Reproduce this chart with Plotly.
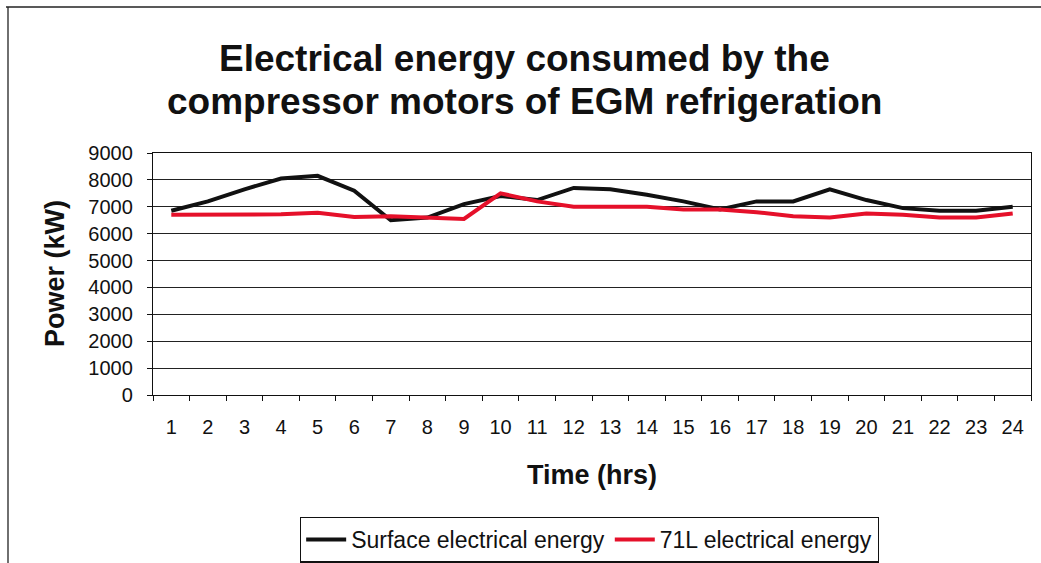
import plotly.graph_objects as go

hours = [str(h) for h in range(1, 25)]
surface_kw = [6850, 7200, 7650, 8050, 8150, 7600, 6500, 6600, 7100, 7400, 7250, 7700,
              7650, 7450, 7200, 6900, 7200, 7200, 7650, 7250, 6950, 6850, 6850, 7000]
level71_kw = [6700, 6700, 6700, 6720, 6780, 6620, 6650, 6600, 6550, 7500, 7200, 7000,
              7000, 7000, 6900, 6900, 6800, 6650, 6600, 6750, 6700, 6600, 6600, 6750]
y_ticks = list(range(0, 9001, 1000))

FONT = "Liberation Sans, Arial, sans-serif"
INK = "#111111"

fig = go.Figure()
fig.add_trace(go.Scatter(x=hours, y=surface_kw, mode="lines",
                         name="Surface electrical energy",
                         line=dict(color=INK, width=4)))
fig.add_trace(go.Scatter(x=hours, y=level71_kw, mode="lines",
                         name="71L electrical energy",
                         line=dict(color="#e5102a", width=4)))

fig.update_layout(
    width=1041, height=563,
    margin=dict(l=153, r=10, t=153, b=168, autoexpand=False),
    paper_bgcolor="white", plot_bgcolor="white",
    font=dict(family=FONT, color=INK),
    showlegend=True,
    legend=dict(orientation="h", x=0.497, xanchor="center", y=-0.598, yanchor="middle",
                bordercolor=INK, borderwidth=1.3, bgcolor="white",
                font=dict(size=23, family=FONT, color=INK), itemwidth=40,
                tracegroupgap=0),
    xaxis=dict(type="category", tickson="boundaries", ticks="outside", ticklen=5,
               tickcolor=INK, showline=True, linecolor=INK, linewidth=1.3,
               mirror=True, showgrid=False, tickfont=dict(size=20, family=FONT),
               ticklabelstandoff=14, range=[-0.5, 23.5], automargin=False),
    yaxis=dict(range=[0, 9000], tickvals=y_ticks, ticks="outside", ticklen=5,
               tickcolor=INK, showline=True, linecolor=INK, linewidth=1.3,
               mirror=True, showgrid=True, gridcolor="#222222", gridwidth=1,
               zeroline=False, tickfont=dict(size=20, family=FONT),
               ticklabelstandoff=10, automargin=False),
    annotations=[
        dict(text="<b>Electrical energy consumed by the</b>",
             xref="paper", yref="paper", x=0.423, y=1 + (153 - 59) / 242,
             xanchor="center", yanchor="middle", showarrow=False,
             font=dict(size=37, family=FONT, color=INK)),
        dict(text="<b>compressor motors of EGM refrigeration</b>",
             xref="paper", yref="paper", x=0.423, y=1 + (153 - 101) / 242,
             xanchor="center", yanchor="middle", showarrow=False,
             font=dict(size=37, family=FONT, color=INK)),
        dict(text="<b>Power (kW)</b>", xref="paper", yref="paper", x=0, y=0.5,
             xanchor="center", yanchor="middle",
             xshift=-98, textangle=-90, showarrow=False,
             font=dict(size=27, family=FONT, color=INK)),
        dict(text="<b>Time (hrs)</b>", xref="paper", yref="paper", x=0.5, y=0,
             xanchor="center", yanchor="middle",
             yshift=-80, showarrow=False,
             font=dict(size=27, family=FONT, color=INK)),
    ],
    shapes=[
        dict(type="line", xref="paper", yref="paper", x0=-147 / 878, x1=1.02,
             y0=1 + 146 / 242, y1=1 + 146 / 242, line=dict(color="#222222", width=1.3)),
        dict(type="line", xref="paper", yref="paper", x0=-145 / 878, x1=-145 / 878,
             y0=1 + 146 / 242, y1=-0.72, line=dict(color="#222222", width=1.3)),
    ],
)

fig.write_html("out.html")
